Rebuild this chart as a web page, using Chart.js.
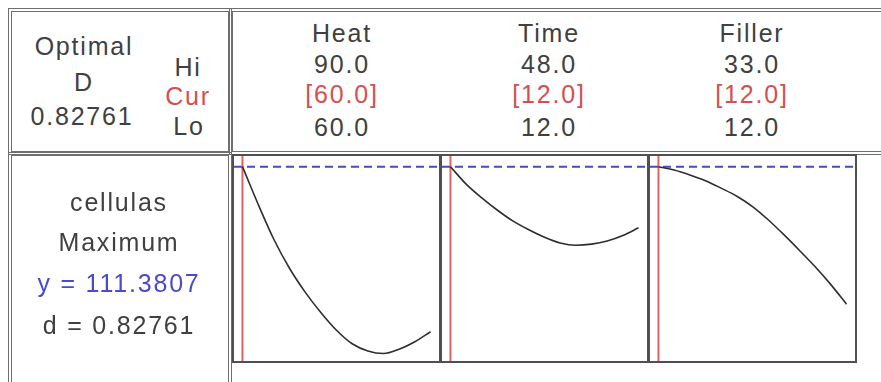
<!DOCTYPE html>
<html>
<head>
<meta charset="utf-8">
<script src="https://cdn.jsdelivr.net/npm/chart.js@4.4.1/dist/chart.umd.min.js"></script>
<style>
  html, body { margin: 0; padding: 0; background: #fff; }
  body { width: 881px; height: 382px; position: relative; overflow: hidden;
         font-family: 'Liberation Sans', Arial, sans-serif; color: #404040; }
  .box { position: absolute; box-sizing: border-box; border: 4px double #6e6e6e; }
  .panel { position: absolute; box-sizing: border-box; border: 2px solid #505050; }
  .panel canvas { position: absolute; left: 0; top: 0; }
  .t { position: absolute; width: 240px; text-align: center; font-size: 25px;
       line-height: 26px; letter-spacing: 1.8px; white-space: nowrap; }
  .red { color: #d45050; }
  .blue { color: #4a4acc; }
</style>
</head>
<body>
<div class="box" style="left:8px;top:8px;width:224px;height:147px"></div>
<div class="box" style="left:229px;top:8px;width:700px;height:147px"></div>
<div class="box" style="left:8px;top:152px;width:224px;height:260px"></div>

<div class="panel" style="left:232px;top:154px;width:209px;height:209px"><canvas id="c0" width="205" height="205"></canvas></div>
<div class="panel" style="left:440px;top:154px;width:209px;height:209px"><canvas id="c1" width="205" height="205"></canvas></div>
<div class="panel" style="left:648px;top:154px;width:209px;height:209px"><canvas id="c2" width="205" height="205"></canvas></div>

<div id="labels"></div>

<script>
// factor settings
const factors = ['Heat', 'Time', 'Filler'];
const hiValues = [90.0, 48.0, 33.0];
const curValues = [60.0, 12.0, 12.0];
const loValues = [60.0, 12.0, 12.0];

// response info
const responseName = 'cellulas';
const goal = 'Maximum';
const yOptimal = 111.3807;
const dValue = 0.82761;

// predicted response along each factor
const heatX = [60, 62.5, 65, 67.5, 70, 72.5, 75, 77.5, 80, 82.5, 85, 87.5, 90];
const heatY = [111.38, 98.3, 86.1, 76.0, 67.7, 60.6, 54.4, 49.7, 47.2, 46.3, 47.8, 50.4, 53.9];
const timeX = [12, 15, 18, 21, 24, 27, 30, 33, 36, 39, 42, 45, 48];
const timeY = [111.38, 105.3, 100.5, 96.2, 92.4, 89.4, 86.8, 84.8, 84.0, 84.4, 85.5, 87.4, 90.1];
const fillerX = [12, 13.75, 15.5, 17.25, 19, 20.75, 22.5, 24.25, 26, 27.75, 29.5, 31.25, 33];
const fillerY = [111.38, 110.2, 108.5, 106.5, 103.9, 101.1, 97.5, 92.9, 87.7, 82.2, 76.5, 70.3, 63.5];

const yMin = 43.7, yMax = 115.1;

// text blocks
const lab = document.getElementById('labels');
function put(txt, cx, base, cls) {
  const d = document.createElement('div');
  d.className = 't' + (cls ? ' ' + cls : '');
  d.textContent = txt;
  d.style.left = (cx - 120) + 'px';
  d.style.top = (base - 21) + 'px';
  lab.appendChild(d);
}
put('Optimal', 84, 54);
put('D', 84, 90);
put(dValue.toFixed(5), 82, 124);
put('Hi', 188, 75);
put('Cur', 188, 104, 'red');
put('Lo', 189, 134);

const colCenters = [342, 549, 752];
factors.forEach((f, i) => {
  put(f, colCenters[i], 41);
  put(hiValues[i].toFixed(1), colCenters[i], 72);
  put('[' + curValues[i].toFixed(1) + ']', colCenters[i], 102, 'red');
  put(loValues[i].toFixed(1), colCenters[i], 135);
});

put(responseName, 119, 210);
put(goal, 119, 250);
put('y = ' + yOptimal.toFixed(4), 119, 291, 'blue');
put('d = ' + dValue.toFixed(5), 119, 333);

const curves = [[heatX, heatY], [timeX, timeY], [fillerX, fillerY]];

curves.forEach(([xs, ys], i) => {
  const lo = loValues[i], hi = hiValues[i];
  const pad = (hi - lo) * 0.045;
  const xmin = lo - pad, xmax = hi + pad;
  new Chart(document.getElementById('c' + i), {
    type: 'scatter',
    data: {
      datasets: [
        {
          data: xs.map((x, k) => ({ x: x, y: ys[k] })),
          showLine: true,
          borderColor: '#2e2e2e',
          borderWidth: 1.6,
          pointRadius: 0,
          cubicInterpolationMode: 'monotone',
        },
        {
          data: [{ x: xmin, y: yOptimal }, { x: xmax, y: yOptimal }],
          showLine: true,
          borderColor: '#4848c8',
          borderWidth: 2,
          borderDash: [8, 5],
          pointRadius: 0,
        },
        {
          data: [{ x: curValues[i], y: yMin }, { x: curValues[i], y: yMax }],
          showLine: true,
          borderColor: '#dc6464',
          borderWidth: 2,
          pointRadius: 0,
        },
      ],
    },
    options: {
      responsive: false,
      animation: false,
      events: [],
      layout: { padding: 0 },
      plugins: { legend: { display: false }, tooltip: { enabled: false } },
      scales: {
        x: { type: 'linear', display: false, min: xmin, max: xmax },
        y: { display: false, min: yMin, max: yMax },
      },
    },
  });
});
</script>
</body>
</html>
